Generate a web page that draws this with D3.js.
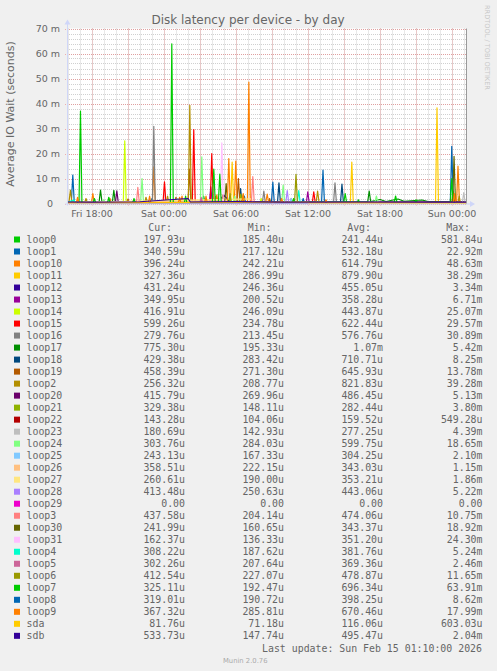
<!DOCTYPE html>
<html><head><meta charset="utf-8">
<script src="https://cdn.jsdelivr.net/npm/d3@7"></script>
<style>
html,body{margin:0;padding:0;background:#F0F0F0;}
svg{display:block;}
</style></head>
<body>
<svg id="chart" width="497" height="671"></svg>
<script>
// ---- data (hours relative to Sat 00:00, values in milliseconds) ----
const title = "Disk latency per device - by day";
const yLabel = "Average IO Wait (seconds)";
const yTicks = [0, 10, 20, 30, 40, 50, 60, 70];
const yTickLabels = ["0", "10 m", "20 m", "30 m", "40 m", "50 m", "60 m", "70 m"];
const names = ["loop0","loop1","loop10","loop11","loop12","loop13","loop14","loop15","loop16","loop17","loop18","loop19","loop2","loop20","loop21","loop22","loop23","loop24","loop25","loop26","loop27","loop28","loop29","loop3","loop30","loop31","loop4","loop5","loop6","loop7","loop8","loop9","sda","sdb"];
const colors = ["#00CC00","#0066B3","#FF8000","#FFCC00","#330099","#990099","#CCFF00","#FF0000","#808080","#008F00","#00487D","#B35A00","#B38F00","#6B006B","#8FB300","#B30000","#BEBEBE","#80FF80","#80C9FF","#FFC080","#FFE680","#AA80FF","#EE00CC","#FF8080","#666600","#FFBFFF","#00FFCC","#CC6699","#999900","#00CC00","#0066B3","#FF8000","#FFCC00","#330099"];
const curVals = ["197.93u","340.59u","396.24u","327.36u","431.24u","349.95u","416.91u","599.26u","279.76u","775.30u","429.38u","458.39u","256.32u","415.79u","329.38u","143.28u","180.69u","303.76u","243.13u","358.51u","260.61u","413.48u","0.00","437.58u","241.99u","162.37u","308.22u","302.26u","412.54u","325.11u","319.01u","367.32u","81.76u","533.73u"];
const minVals = ["185.40u","217.12u","242.21u","286.99u","246.36u","200.52u","246.09u","234.78u","213.45u","195.33u","283.42u","271.30u","208.77u","269.96u","148.11u","104.06u","142.93u","284.03u","167.33u","222.15u","190.00u","250.63u","0.00","204.14u","160.65u","136.33u","187.62u","207.64u","227.07u","192.47u","190.72u","285.81u","71.18u","147.74u"];
const avgVals = ["241.44u","532.18u","614.79u","879.90u","455.05u","358.28u","443.87u","622.44u","576.76u","1.07m","710.71u","645.93u","821.83u","486.45u","282.44u","159.52u","277.25u","599.75u","304.25u","343.03u","353.21u","443.06u","0.00","474.06u","343.37u","351.20u","381.76u","369.36u","478.87u","696.34u","398.25u","670.46u","116.06u","495.47u"];
const maxVals = ["581.84u","22.92m","48.63m","38.29m","3.34m","6.71m","25.07m","29.57m","30.89m","5.42m","8.25m","13.78m","39.28m","5.13m","3.80m","549.28u","4.39m","18.65m","2.10m","1.15m","1.86m","5.22m","0.00","10.75m","18.92m","24.30m","5.24m","2.46m","11.65m","63.91m","8.62m","17.99m","603.03u","2.04m"];

const loop0  = [[-8.08,0.24],[-5,0.26],[-2,0.22],[1,0.3],[3.5,0.58],[6,0.25],[10,0.22],[14,0.24],[18,0.26],[22,0.23],[25.17,0.2]];
const loop1  = [[-8.08,0.4],[-7.72,0.4],[-7.6,11.4],[-7.48,0.5],[-3,0.4],[-1.1,0.4],[-1,2],[-0.9,0.4],[2,1.5],[2.2,0.4],[6.6,0.4],[6.7,3],[6.8,0.4],[11.5,0.4],[11.6,2],[11.7,0.4],[13.13,0.4],[13.25,13.4],[13.37,0.4],[20,0.35],[23.86,0.4],[23.98,22.9],[24.1,0.6],[25.17,0.34]];
const loop10 = [[-8.08,0.3],[-6.05,0.3],[-5.93,4],[-5.81,0.3],[-4.6,0.3],[-4.5,2],[-4.4,0.3],[-0.97,0.3],[-0.85,14.7],[-0.73,0.4],[1.4,0.4],[1.5,3],[1.6,0.4],[4.3,0.4],[4.4,3.5],[4.5,0.4],[5.86,0.4],[5.98,17],[6.1,0.4],[6.95,0.4],[7.07,48.6],[7.19,0.5],[10.5,0.4],[10.6,2],[10.7,0.3],[12,0.3],[24.38,0.3],[24.5,15],[24.62,0.4],[25.17,0.4]];
const loop11 = [[-8.08,0.5],[3,0.6],[5.56,0.6],[5.68,16.6],[5.8,0.6],[15.53,0.5],[15.65,16.6],[15.77,0.5],[22.63,0.4],[22.75,38.3],[22.87,0.5],[25.17,0.33]];
const loop12 = [[-8.08,0.45],[-4,0.5],[0,0.4],[4.5,0.9],[5,3.3],[5.5,0.6],[9,0.45],[14,0.5],[20,0.42],[25.17,0.43]];
const loop13 = [[-8.08,0.3],[3.78,0.3],[3.9,6.7],[4.02,0.3],[11.86,0.3],[11.98,4.7],[12.1,0.3],[25.17,0.35]];
const loop14 = [[-8.08,0.35],[-3.39,0.35],[-3.27,25.1],[-3.15,0.4],[8,0.4],[8.1,2],[8.2,0.4],[25.17,0.42]];
const loop15 = [[-8.08,0.4],[-0.08,0.4],[0.04,8.7],[0.16,0.4],[2.36,0.4],[2.48,29.6],[2.6,0.5],[3.86,0.5],[3.98,20],[4.1,0.5],[12.36,0.4],[12.48,4.7],[12.6,0.4],[25.17,0.6]];
const loop16 = [[-8.08,0.3],[-0.97,0.3],[-0.85,30.9],[-0.73,0.4],[8.2,0.4],[8.32,5],[8.44,0.3],[14.13,0.3],[14.25,8.3],[14.37,0.3],[25.17,0.28]];
const loop17 = [[-8.08,0.5],[-5.41,0.5],[-5.29,5.4],[-5.17,0.6],[-4.3,0.6],[-4.18,5.3],[-4.06,0.5],[3.2,0.6],[3.3,3],[3.4,0.6],[16.98,0.8],[17.1,5],[17.22,0.8],[18,1.6],[18.5,0.8],[19.5,1.8],[20,0.9],[21.5,1.4],[22,0.8],[25.17,0.78]];
const loop18 = [[-8.08,0.5],[6.26,0.5],[6.38,6],[6.5,0.5],[9.46,0.5],[9.58,8.25],[9.7,0.5],[14.71,0.5],[14.83,7.8],[14.95,0.5],[25.17,0.43]];
const loop19 = [[-8.08,0.4],[-3.1,0.4],[-3,1.8],[-2.9,0.4],[0.9,0.4],[1,2.5],[1.1,0.4],[2,0.4],[2.12,13.8],[2.24,0.5],[4.8,0.5],[4.9,3.5],[5,0.5],[6.08,0.5],[6.2,10],[6.32,0.5],[8.7,0.4],[8.8,2],[8.9,0.4],[23.98,0.5],[24.1,5],[24.22,0.5],[25.17,0.46]];
const loop2  = [[-8.08,0.5],[-7.92,0.5],[-7.8,5.4],[-7.68,0.6],[-6.6,0.5],[-6.5,2],[-6.4,0.5],[-1.6,0.5],[-1.5,2.5],[-1.4,0.5],[0.2,0.5],[0.3,3],[0.4,0.5],[2.03,0.6],[2.15,39.3],[2.27,0.6],[4.2,0.5],[4.3,3],[4.4,0.5],[6.5,0.5],[6.6,3.5],[6.7,0.5],[12.68,0.5],[12.8,5],[12.92,0.5],[24.5,0.4],[24.6,3],[24.7,0.4],[25.17,0.26]];
const loop20 = [[-8.08,0.4],[-4.05,0.4],[-3.93,5.1],[-3.81,0.4],[25.17,0.42]];
const loop21 = [[-8.08,0.25],[6.28,0.25],[6.4,3.8],[6.52,0.25],[25.17,0.33]];
const loop22 = [[-8.08,0.15],[10,0.55],[10.2,0.15],[25.17,0.14]];
const loop23 = [[-8.08,0.25],[24.86,0.25],[24.98,4.4],[25.1,0.3],[25.17,0.18]];
const loop24 = [[-8.08,0.5],[-5.1,0.5],[-5,1.5],[-4.9,0.5],[-1.95,0.5],[-1.83,10],[-1.71,0.5],[1,0.5],[1.1,2],[1.2,0.5],[3.03,0.5],[3.15,18.65],[3.27,0.6],[5.8,0.5],[5.9,3],[6,0.5],[9.81,0.5],[9.93,7.4],[10.05,0.5],[17.58,0.6],[17.7,3],[17.82,0.5],[25.17,0.3]];
const loop25 = [[-8.08,0.3],[10.5,0.3],[10.6,2.1],[10.7,0.3],[25.17,0.24]];
const loop26 = [[-8.08,0.34],[5,1.15],[5.2,0.34],[25.17,0.36]];
const loop27 = [[-8.08,0.35],[7.3,1.86],[7.4,0.35],[25.17,0.26]];
const loop28 = [[-8.08,0.4],[10.15,0.4],[10.27,5.2],[10.39,0.4],[25.17,0.41]];
const loop29 = [[-8.08,0],[25.17,0]];
const loop3  = [[-8.08,0.3],[-2.3,0.3],[-2.18,6.5],[-2.06,0.3],[7.28,0.3],[7.4,10.75],[7.52,0.4],[25.17,0.44]];
const loop30 = [[-8.08,0.3],[5.06,0.3],[5.18,8],[5.3,0.3],[24.05,0.3],[24.17,18.9],[24.29,0.3],[25.17,0.24]];
const loop31 = [[-8.08,0.3],[4.7,0.3],[4.82,24.3],[4.94,0.3],[25.17,0.16]];
const loop4  = [[-8.08,0.3],[-7.5,1.5],[-7.4,0.3],[11.11,0.3],[11.23,5.2],[11.35,0.3],[25.17,0.31]];
const loop5  = [[-8.08,0.3],[3,0.3],[3.1,2.46],[3.2,0.3],[25.17,0.3]];
const loop6  = [[-8.08,0.4],[10.88,0.4],[11,11.65],[11.12,0.4],[25.17,0.41]];
const loop7  = [[-8.08,0.4],[-7.08,0.4],[-6.96,37],[-6.84,0.4],[-5.9,0.4],[-5.8,2],[-5.7,0.4],[-4.7,0.4],[-4.6,2.5],[-4.5,0.4],[-2.6,0.4],[-2.5,2],[-2.4,0.4],[0.53,0.4],[0.65,63.9],[0.77,0.4],[1.7,0.4],[1.8,3],[1.9,0.4],[4.03,0.4],[4.15,13.8],[4.27,0.4],[4.53,0.4],[4.65,11.8],[4.77,0.4],[5.4,0.4],[5.5,4],[5.6,0.4],[10.7,0.4],[10.8,2],[10.9,0.4],[14.98,0.4],[15.1,4],[15.22,0.4],[16.1,0.4],[16.2,1.5],[16.3,0.4],[19.18,0.4],[19.3,3],[19.42,0.4],[20.9,0.4],[21,1.5],[21.1,0.4],[23.86,0.5],[23.98,10],[24.1,0.4],[25.17,0.33]];
const loop8  = [[-8.08,0.35],[8.95,0.35],[9.07,8.6],[9.19,0.35],[25.17,0.32]];
const loop9  = [[-8.08,0.4],[-7.3,0.4],[-7.2,2.5],[-7.1,0.4],[-1.3,0.4],[-1.2,3],[-1.1,0.4],[1.2,0.4],[1.3,2.5],[1.4,0.4],[3.4,0.4],[3.5,3],[3.6,0.4],[5.28,0.4],[5.4,18],[5.52,0.5],[6.5,0.4],[6.6,4],[6.7,0.4],[8.48,0.4],[8.6,3.8],[8.72,0.4],[9.7,0.4],[9.8,2],[9.9,0.4],[13.4,0.4],[13.5,1.5],[13.6,0.4],[24.1,0.4],[24.2,4],[24.3,0.4],[25.17,0.37]];
const sda    = [[-8.08,0.1],[12,0.6],[12.1,0.1],[25.17,0.08]];
const sdb    = [[-8.08,0.6],[-6,0.55],[-2,0.7],[2,2],[2.2,0.6],[6,0.75],[10,0.55],[16,0.6],[22,0.55],[25.17,0.53]];

const seriesData = [loop0,loop1,loop10,loop11,loop12,loop13,loop14,loop15,loop16,loop17,loop18,loop19,loop2,loop20,loop21,loop22,loop23,loop24,loop25,loop26,loop27,loop28,loop29,loop3,loop30,loop31,loop4,loop5,loop6,loop7,loop8,loop9,sda,sdb];
const lastUpdate = "Last update: Sun Feb 15 01:10:00 2026";
const version = "Munin 2.0.76";
const watermark = "RRDTOOL / TOBI OETIKER";

// ---- layout ----
const svg = d3.select("#chart");
const L = 67, R = 467, T = 28.5, B = 203.5;
const sat0 = Date.UTC(2026, 1, 14, 0, 0);
const toDate = h => new Date(sat0 + h * 3600e3);
const x = d3.scaleUtc().domain([new Date(Date.UTC(2026,1,13,15,55)), new Date(Date.UTC(2026,1,15,1,15))]).range([L, R]);
const y = d3.scaleLinear().domain([0, 70]).range([B, T]);

svg.append("rect").attr("width", 497).attr("height", 671).attr("fill", "#F0F0F0");
svg.append("rect").attr("x", L).attr("y", T).attr("width", R - L).attr("height", B - T).attr("fill", "#FFFFFF");

const font = "'DejaVu Sans', sans-serif";
const mono = "'DejaVu Sans Mono', monospace";
const fontCol = "#666666";

// grid
const g = svg.append("g");
const minorX = x.ticks(d3.utcHour.every(1));
const majorX = x.ticks(d3.utcHour.every(3));
const minorCol = "rgba(150,150,150,0.45)";
const majorCol = "rgba(235,120,120,0.55)";
g.selectAll(".mx").data(minorX).join("line")
  .attr("x1", d => Math.round(x(d)) + 0.5).attr("x2", d => Math.round(x(d)) + 0.5)
  .attr("y1", T).attr("y2", B)
  .attr("stroke", minorCol).attr("stroke-dasharray", "1,1").attr("stroke-width", 1);
const minorY = d3.range(0, 71, 2);
g.selectAll(".my").data(minorY).join("line")
  .attr("x1", L).attr("x2", R)
  .attr("y1", d => Math.round(y(d)) + 0.5).attr("y2", d => Math.round(y(d)) + 0.5)
  .attr("stroke", minorCol).attr("stroke-dasharray", "1,1").attr("stroke-width", 1);
g.selectAll(".MX").data(majorX).join("line")
  .attr("x1", d => Math.round(x(d)) + 0.5).attr("x2", d => Math.round(x(d)) + 0.5)
  .attr("y1", T).attr("y2", B + 3)
  .attr("stroke", majorCol).attr("stroke-dasharray", "1,1").attr("stroke-width", 1);
g.selectAll(".MY").data(yTicks).join("line")
  .attr("x1", L - 2).attr("x2", R)
  .attr("y1", d => Math.round(y(d)) + 0.5).attr("y2", d => Math.round(y(d)) + 0.5)
  .attr("stroke", majorCol).attr("stroke-dasharray", "1,1").attr("stroke-width", 1);

// y tick labels
svg.selectAll(".yl").data(yTicks).join("text")
  .attr("x", d => d === 0 ? 53 : 60).attr("y", d => y(d) + 3.5)
  .attr("text-anchor", "end").attr("font-family", font).attr("font-size", 9.5).attr("fill", fontCol)
  .text((d, i) => yTickLabels[i]);

// x tick labels
const labelTicks = x.ticks(d3.utcHour.every(6));
const fmt = d3.utcFormat("%a %H:%M");
svg.selectAll(".xl").data(labelTicks).join("text")
  .attr("x", d => x(d)).attr("y", 216.5)
  .attr("text-anchor", "middle").attr("font-family", font).attr("font-size", 9.5).attr("fill", fontCol)
  .text(d => fmt(d));

// series lines
const line = d3.line().x(d => x(toDate(d[0]))).y(d => y(d[1]));
const lines = svg.append("g");
seriesData.forEach((s, i) => {
  lines.append("path").attr("d", line(s)).attr("fill", "none")
    .attr("stroke", colors[i]).attr("stroke-width", 1.2).attr("stroke-linejoin", "round");
});

// axes + arrows
const axisCol = "#CFD6F8";
svg.append("line").attr("x1", L + 0.5).attr("x2", L + 0.5).attr("y1", B + 2).attr("y2", T - 5).attr("stroke", axisCol);
svg.append("line").attr("x1", L - 2).attr("x2", R + 3).attr("y1", B + 0.5).attr("y2", B + 0.5).attr("stroke", axisCol);
svg.append("path").attr("d", `M${L - 2.5},${T - 4} L${L + 3.5},${T - 4} L${L + 0.5},${T - 9} Z`).attr("fill", axisCol);
svg.append("path").attr("d", `M${R + 3},${B - 2.5} L${R + 3},${B + 3.5} L${R + 8},${B + 0.5} Z`).attr("fill", axisCol);
svg.append("line").attr("x1", R - 0.5).attr("x2", R - 0.5).attr("y1", T).attr("y2", B).attr("stroke", "#9a9a9a");

// titles
svg.append("text").attr("x", 248).attr("y", 24).attr("text-anchor", "middle")
  .attr("font-family", font).attr("font-size", 12).attr("fill", fontCol).text(title);
svg.append("text").attr("transform", "translate(14,114) rotate(-90)").attr("text-anchor", "middle")
  .attr("font-family", font).attr("font-size", 11).attr("fill", fontCol).text(yLabel);
svg.append("text").attr("transform", "translate(484.5,5) rotate(90)").attr("text-anchor", "start")
  .attr("font-family", font).attr("font-size", 6.6).attr("fill", "#C8C8C8").text(watermark);

// legend
const legendHeaders = ["Cur:", "Min:", "Avg:", "Max:"];
const headerX = [172, 271.5, 371, 470];
const colX = [185, 284, 383, 482.5];
legendHeaders.forEach((h, i) => {
  svg.append("text").attr("x", headerX[i]).attr("y", 231).attr("text-anchor", "end")
    .attr("font-family", mono).attr("font-size", 9.9).attr("fill", fontCol).text(h);
});
const rowY = i => 239.5 + i * 12.01;
const cols = [curVals, minVals, avgVals, maxVals];
names.forEach((n, i) => {
  const yy = rowY(i);
  svg.append("rect").attr("x", 14).attr("y", yy - 3).attr("width", 6).attr("height", 6).attr("fill", colors[i]);
  svg.append("text").attr("x", 26.5).attr("y", yy + 3.5).attr("font-family", mono).attr("font-size", 9.9)
    .attr("fill", fontCol).text(n);
  cols.forEach((c, j) => {
    svg.append("text").attr("x", colX[j]).attr("y", yy + 3.5).attr("text-anchor", "end")
      .attr("font-family", mono).attr("font-size", 9.9).attr("fill", fontCol).text(c[i]);
  });
});
svg.append("text").attr("x", 482).attr("y", 651.5).attr("text-anchor", "end")
  .attr("font-family", mono).attr("font-size", 9.9).attr("fill", fontCol).text(lastUpdate);
svg.append("text").attr("x", 223).attr("y", 663).attr("font-family", font).attr("font-size", 6.8)
  .attr("fill", "#AAAAAA").text(version);
</script>
</body></html>
